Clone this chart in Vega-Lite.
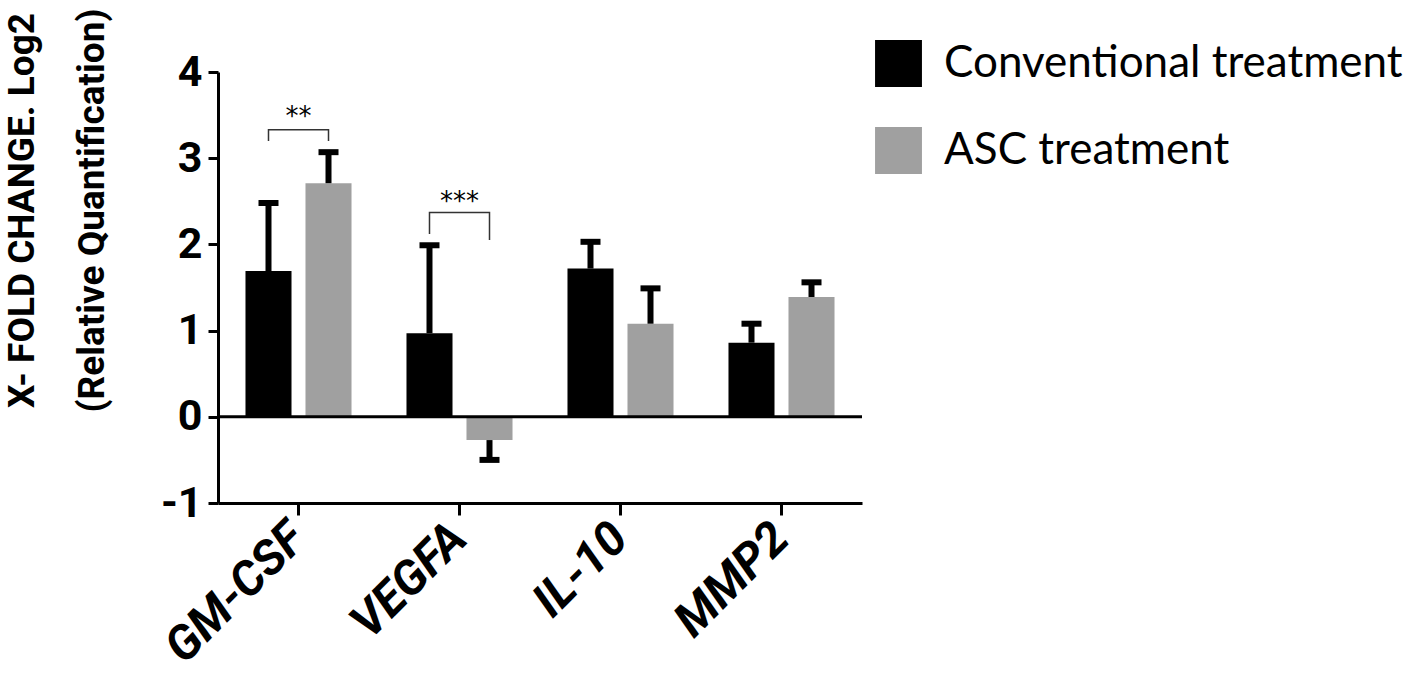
{
  "$schema": "https://vega.github.io/schema/vega-lite/v6.json",
  "width": 644,
  "height": 431,
  "autosize": {"type": "none"},
  "padding": {"left": 218, "top": 72, "right": 556, "bottom": 172},
  "background": "white",
  "config": {"view": {"stroke": null}, "font": "Roboto"},
  "datasets": {
    "bars": [
      {"gene": "GM-CSF", "treatment": "Conventional treatment", "value": 1.69, "err": 2.48},
      {"gene": "GM-CSF", "treatment": "ASC treatment", "value": 2.71, "err": 3.07},
      {"gene": "VEGFA", "treatment": "Conventional treatment", "value": 0.97, "err": 1.99},
      {"gene": "VEGFA", "treatment": "ASC treatment", "value": -0.27, "err": -0.5},
      {"gene": "IL-10", "treatment": "Conventional treatment", "value": 1.72, "err": 2.03},
      {"gene": "IL-10", "treatment": "ASC treatment", "value": 1.08, "err": 1.49},
      {"gene": "MMP2", "treatment": "Conventional treatment", "value": 0.86, "err": 1.08},
      {"gene": "MMP2", "treatment": "ASC treatment", "value": 1.39, "err": 1.56}
    ],
    "brackets": [
      {"gene": "GM-CSF", "treatment": "Conventional treatment", "y": 3.2, "ord": 1, "b": "a"},
      {"gene": "GM-CSF", "treatment": "Conventional treatment", "y": 3.33, "ord": 2, "b": "a"},
      {"gene": "GM-CSF", "treatment": "ASC treatment", "y": 3.33, "ord": 3, "b": "a"},
      {"gene": "GM-CSF", "treatment": "ASC treatment", "y": 3.2, "ord": 4, "b": "a"},
      {"gene": "VEGFA", "treatment": "Conventional treatment", "y": 2.12, "ord": 1, "b": "b"},
      {"gene": "VEGFA", "treatment": "Conventional treatment", "y": 2.37, "ord": 2, "b": "b"},
      {"gene": "VEGFA", "treatment": "ASC treatment", "y": 2.37, "ord": 3, "b": "b"},
      {"gene": "VEGFA", "treatment": "ASC treatment", "y": 2.05, "ord": 4, "b": "b"}
    ],
    "stars": [
      {"gene": "GM-CSF", "y": 3.48, "label": "**"},
      {"gene": "VEGFA", "y": 2.49, "label": "***"}
    ]
  },
  "layer": [
    {
      "data": {"name": "bars"},
      "mark": {"type": "bar"},
      "encoding": {
        "x": {
          "field": "gene", "type": "nominal", "sort": ["GM-CSF", "VEGFA", "IL-10", "MMP2"],
          "scale": {"paddingInner": 0, "paddingOuter": 0},
          "axis": {
            "title": null, "domainWidth": 3, "domainColor": "black", "tickWidth": 3, "tickSize": 12,
            "tickColor": "black", "labelAngle": -45, "labelAlign": "right", "labelBaseline": "middle",
            "labelFont": "Roboto", "labelFontSize": 48, "labelFontWeight": "bold",
            "labelFontStyle": "italic", "labelPadding": 16, "labelColor": "black"
          }
        },
        "xOffset": {
          "field": "treatment", "type": "nominal", "sort": ["Conventional treatment", "ASC treatment"],
          "scale": {"paddingInner": 0.233, "paddingOuter": 0.458}
        },
        "y": {
          "field": "value", "type": "quantitative",
          "scale": {"domain": [-1, 4], "nice": false, "zero": false},
          "axis": {
            "values": [-1, 0, 1, 2, 3, 4], "labelExpr": "'' + datum.value", "grid": false,
            "domainWidth": 3, "domainColor": "black", "tickWidth": 3, "tickColor": "black", "tickSize": 10,
            "labelFont": "Roboto", "labelFontSize": 43, "labelFontWeight": "bold",
            "labelColor": "black", "labelPadding": 6, "labelFlush": false, "labelOverlap": false,
            "title": ["X- FOLD CHANGE. Log2", "(Relative Quantification)"],
            "titleFont": "Roboto", "titleFontSize": 37, "titleFontWeight": "bold",
            "titleLineHeight": 70, "titleX": -196, "titleY": 138, "titleAngle": -90,
            "titleAlign": "center", "titleBaseline": "middle", "titleColor": "black"
          }
        },
        "color": {
          "field": "treatment", "type": "nominal",
          "scale": {"domain": ["Conventional treatment", "ASC treatment"], "range": ["#000000", "#a0a0a0"]},
          "legend": {
            "orient": "none", "legendX": 657, "legendY": -32, "title": null, "symbolType": "square",
            "symbolSize": 2200, "symbolStrokeWidth": 0, "symbolOpacity": 1, "labelFont": "Lato",
            "labelFontSize": 44, "labelColor": "black", "labelOffset": 22, "rowPadding": 40,
            "padding": 0, "labelLimit": 0
          }
        }
      }
    },
    {
      "data": {"name": "bars"},
      "mark": {"type": "rule", "strokeWidth": 6, "color": "black", "opacity": 1},
      "encoding": {
        "x": {"field": "gene", "type": "nominal", "sort": ["GM-CSF", "VEGFA", "IL-10", "MMP2"]},
        "xOffset": {"field": "treatment", "type": "nominal", "sort": ["Conventional treatment", "ASC treatment"]},
        "y": {"field": "value", "type": "quantitative"},
        "y2": {"field": "err"}
      }
    },
    {
      "data": {"name": "bars"},
      "mark": {"type": "tick", "size": 20, "thickness": 6, "color": "black", "opacity": 1, "orient": "horizontal"},
      "encoding": {
        "x": {"field": "gene", "type": "nominal", "sort": ["GM-CSF", "VEGFA", "IL-10", "MMP2"]},
        "xOffset": {"field": "treatment", "type": "nominal", "sort": ["Conventional treatment", "ASC treatment"]},
        "y": {"field": "err", "type": "quantitative"}
      }
    },
    {
      "data": {"values": [{}]},
      "mark": {"type": "rule", "strokeWidth": 3, "color": "black"},
      "encoding": {"y": {"datum": 0}}
    },
    {
      "data": {"name": "brackets"},
      "mark": {"type": "line", "strokeWidth": 1.5, "color": "#333333"},
      "encoding": {
        "x": {"field": "gene", "type": "nominal", "sort": ["GM-CSF", "VEGFA", "IL-10", "MMP2"]},
        "xOffset": {"field": "treatment", "type": "nominal", "sort": ["Conventional treatment", "ASC treatment"]},
        "y": {"field": "y", "type": "quantitative"},
        "detail": {"field": "b"},
        "order": {"field": "ord"}
      }
    },
    {
      "data": {"name": "stars"},
      "mark": {"type": "text", "fontSize": 26, "font": "DejaVu Sans", "color": "black", "baseline": "middle"},
      "encoding": {
        "x": {"field": "gene", "type": "nominal", "sort": ["GM-CSF", "VEGFA", "IL-10", "MMP2"]},
        "y": {"field": "y", "type": "quantitative"},
        "text": {"field": "label"}
      }
    }
  ]
}
